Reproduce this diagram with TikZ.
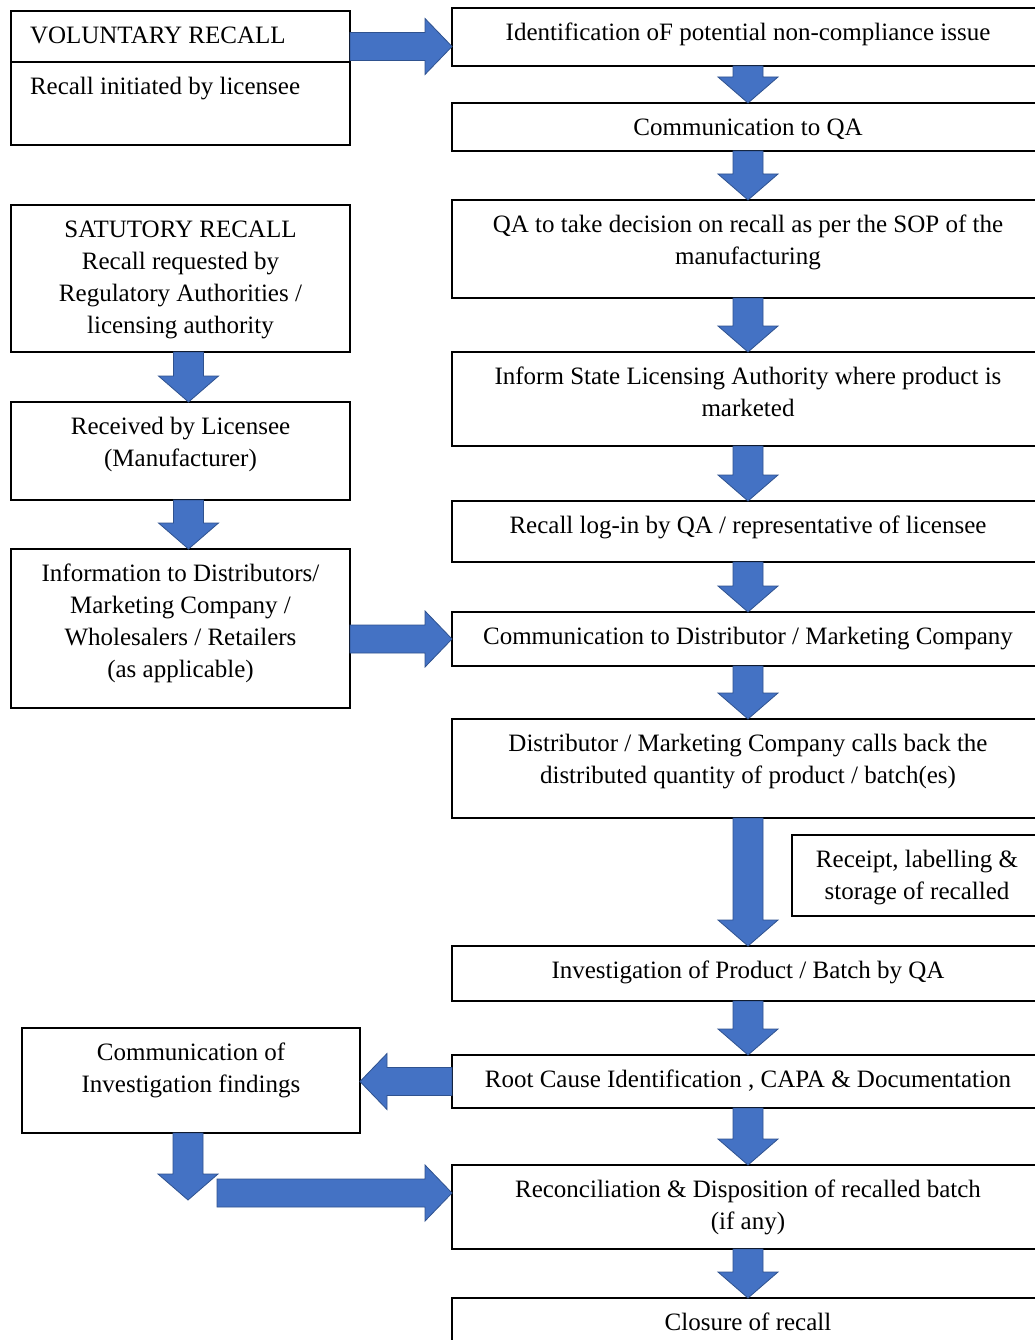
\documentclass[tikz,border=0pt]{standalone}
\usepackage{fontspec}
\setmainfont{Liberation Serif}
\newfontfamily\flowfont{Liberation Serif}
\usetikzlibrary{calc,positioning}
\definecolor{arrowblue}{HTML}{4472C4}
\definecolor{arrowedge}{HTML}{2F528F}
\tikzset{
  box/.style={draw=black, line width=1.4pt, rectangle, inner sep=0pt, outer sep=0pt, anchor=north west,
    font=\flowfont\fontsize{25}{32}\selectfont},
  blockarrow/.style={fill=arrowblue, draw=arrowedge, line width=0.8pt, line join=miter},
}
% text sitting at the top of a box
\newcommand{\boxtxt}[3]{\parbox[c][#2][t]{#1}{\centering\vspace*{10pt}\strut#3}}
\newcommand{\boxtxtl}[3]{\parbox[c][#2][t]{#1}{\raggedright\vspace*{10pt}\hspace*{19pt}\strut#3}}
% block arrows
\newcommand{\flowdown}[3][0]{\draw[blockarrow] ($(#2)+(#1-15,0)$) -- ($(#3)+(#1-15,-26)$) -- ($(#3)+(#1-30,-26)$) -- ($(#3)+(#1,0)$) -- ($(#3)+(#1+30,-26)$) -- ($(#3)+(#1+15,-26)$) -- ($(#2)+(#1+15,0)$) -- cycle;}
\newcommand{\flowright}[2]{\draw[blockarrow] ($(#1)+(0,-14)$) -- ($(#2)+(-27,-14)$) -- ($(#2)+(-27,-28)$) -- (#2) -- ($(#2)+(-27,28)$) -- ($(#2)+(-27,14)$) -- ($(#1)+(0,14)$) -- cycle;}
\newcommand{\flowleft}[2]{\draw[blockarrow] ($(#1)+(0,-14)$) -- ($(#2)+(27,-14)$) -- ($(#2)+(27,-28)$) -- (#2) -- ($(#2)+(27,28)$) -- ($(#2)+(27,14)$) -- ($(#1)+(0,14)$) -- cycle;}

\begin{document}
\begin{tikzpicture}[x=1pt,y=-1pt]
\useasboundingbox (0,0) rectangle (1035,1340);
\clip (0,0) rectangle (1035,1340);
\fill[white] (0,0) rectangle (1035,1340);

% left column
\node[box] (volhead) at (11,11) {\boxtxtl{339pt}{51pt}{VOLUNTARY RECALL}};
\node[box] (voltext) at (11,62) {\boxtxtl{339pt}{83pt}{Recall initiated by licensee}};
\node[box] (sat) at (11,205) {\boxtxt{339pt}{147pt}{SATUTORY RECALL\\Recall requested by\\Regulatory Authorities /\\licensing authority}};
\node[box] (recv) at (11,402) {\boxtxt{339pt}{98pt}{Received by Licensee\\(Manufacturer)}};
\node[box] (info) at (11,549) {\boxtxt{339pt}{159pt}{Information to Distributors/\\Marketing Company /\\Wholesalers / Retailers\\(as applicable)}};
\node[box] (comm) at (22,1028) {\boxtxt{338pt}{105pt}{Communication of\\Investigation findings}};

% right column
\node[box] (ident) at (452,8) {\boxtxt{592pt}{58pt}{Identification oF potential non-compliance issue}};
\node[box] (commqa) at (452,103) {\boxtxt{592pt}{48pt}{Communication to QA}};
\node[box] (decide) at (452,200) {\boxtxt{592pt}{98pt}{QA to take decision on recall as per the SOP of the\\manufacturing}};
\node[box] (inform) at (452,352) {\boxtxt{592pt}{94pt}{Inform State Licensing Authority where product is\\marketed}};
\node[box] (login) at (452,501) {\boxtxt{592pt}{61pt}{Recall log-in by QA / representative of licensee}};
\node[box] (commdist) at (452,612) {\boxtxt{592pt}{54pt}{Communication to Distributor / Marketing Company}};
\node[box] (callback) at (452,719) {\boxtxt{592pt}{99pt}{Distributor / Marketing Company calls back the\\distributed quantity of product / batch(es)}};
\node[box] (receipt) at (792,835) {\boxtxt{250pt}{81pt}{Receipt, labelling \&\\storage of recalled}};
\node[box] (invest) at (452,946) {\boxtxt{592pt}{55pt}{Investigation of Product / Batch by QA}};
\node[box] (root) at (452,1055) {\boxtxt{592pt}{53pt}{Root Cause Identification , CAPA \& Documentation}};
\node[box] (recon) at (452,1165) {\boxtxt{592pt}{84pt}{Reconciliation \& Disposition of recalled batch\\(if any)}};
\node[box] (closure) at (452,1298) {\boxtxt{592pt}{60pt}{Closure of recall}};

% free ends
\coordinate (vstart) at ($(volhead.east)+(0,10)$);
\coordinate (cend) at ($(comm.south)+(0,67)$);
\coordinate (rstart) at ($(comm.south)+(26,60)$);

% arrows
\flowright{vstart}{ident.west |- vstart}
\flowdown{ident.south}{commqa.north}
\flowdown{commqa.south}{decide.north}
\flowdown{decide.south}{inform.north}
\flowdown{inform.south}{login.north}
\flowdown{login.south}{commdist.north}
\flowdown{commdist.south}{callback.north}
\flowdown{callback.south}{invest.north}
\flowdown{invest.south}{root.north}
\flowdown{root.south}{recon.north}
\flowdown{recon.south}{closure.north}
\flowdown[8]{sat.south}{recv.north}
\flowdown[8]{recv.south}{info.north}
\flowright{info.east |- commdist.west}{commdist.west}
\flowleft{root.west}{comm.east |- root.west}
\flowdown[-3]{comm.south}{cend}
\flowright{rstart}{recon.west |- rstart}
\end{tikzpicture}
\end{document}
